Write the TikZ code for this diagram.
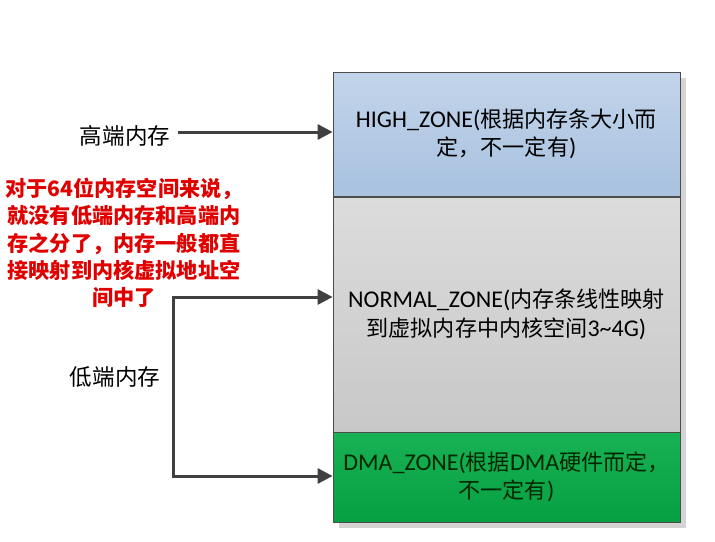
\documentclass[tikz,border=0pt]{standalone}
\usepackage{fontspec}
\setmainfont{Carlito}
\newfontfamily\cjk[Scale=0.92]{Noto Sans CJK SC}
\usetikzlibrary{arrows.meta,positioning}
\definecolor{arrowgray}{HTML}{404040}
\definecolor{notered}{HTML}{E00000}
\definecolor{shadowgray}{HTML}{D4D4D4}
\tikzset{
  zone/.style={draw=black!70, line width=0.8pt, minimum width=347pt, inner sep=0pt,
    align=center, font=\fontsize{24}{28.5}\selectfont},
  arr/.style={draw=arrowgray, line width=3pt, -{Triangle[length=15pt,width=15pt]}},
  lbl/.style={font=\cjk\fontsize{24.5}{28}\selectfont},
}
\begin{document}
\begin{tikzpicture}[x=1pt, y=-1pt]
  \useasboundingbox (0, 0) rectangle (715, 541);
  % shadow behind the zone stack
  \fill[shadowgray] (339, 78) rectangle (686, 528);
  % memory zones
  \node[zone, minimum height=124pt, top color={rgb,255:red,194;green,212;blue,234},
        bottom color={rgb,255:red,168;green,194;blue,224}] (high) at (506.5, 134)
        {HIGH\_ZONE({\cjk 根据内存条大小而}\\{\cjk 定，不一定有})};
  \node[zone, minimum height=235pt, top color={rgb,255:red,220;green,220;blue,220},
        bottom color={rgb,255:red,200;green,200;blue,200}] (normal) at (506.5, 314.5)
        {NORMAL\_ZONE({\cjk 内存条线性映射}\\{\cjk 到虚拟内存中内核空间}3\textasciitilde 4G)};
  \node[zone, minimum height=90pt, text=black!85!green, top color={rgb,255:red,24;green,178;blue,84},
        bottom color={rgb,255:red,6;green,160;blue,66}] (dma) at (506.5, 477)
        {DMA\_ZONE({\cjk 根据}DMA{\cjk 硬件而定，}\\{\cjk 不一定有})};
  % labels
  \node[lbl] (hilbl) at (125, 136) {高端内存};
  \node[lbl] (lolbl) at (115, 377) {低端内存};
  \node[font=\cjk\bfseries\fontsize{23}{27.3}\selectfont, text=notered, align=center,
        inner sep=0pt] (note) at (124, 243)
        {对于64位内存空间来说，\\就没有低端内存和高端内\\存之分了，内存一般都直\\接映射到内核虚拟地址空\\间中了};
  % arrows
  \draw[arr] (hilbl.east |- 0, 132) ++(4, 0) coordinate (histart) -- (histart -| high.west);
  \coordinate (lotop) at (173, 297);
  \coordinate (lobot) at (173, 476);
  \draw[arr] (lobot) -- (lotop) -- (lotop -| normal.west);
  \draw[arr] (lotop) -- (lobot) -- (lobot -| dma.west);
\end{tikzpicture}
\end{document}
